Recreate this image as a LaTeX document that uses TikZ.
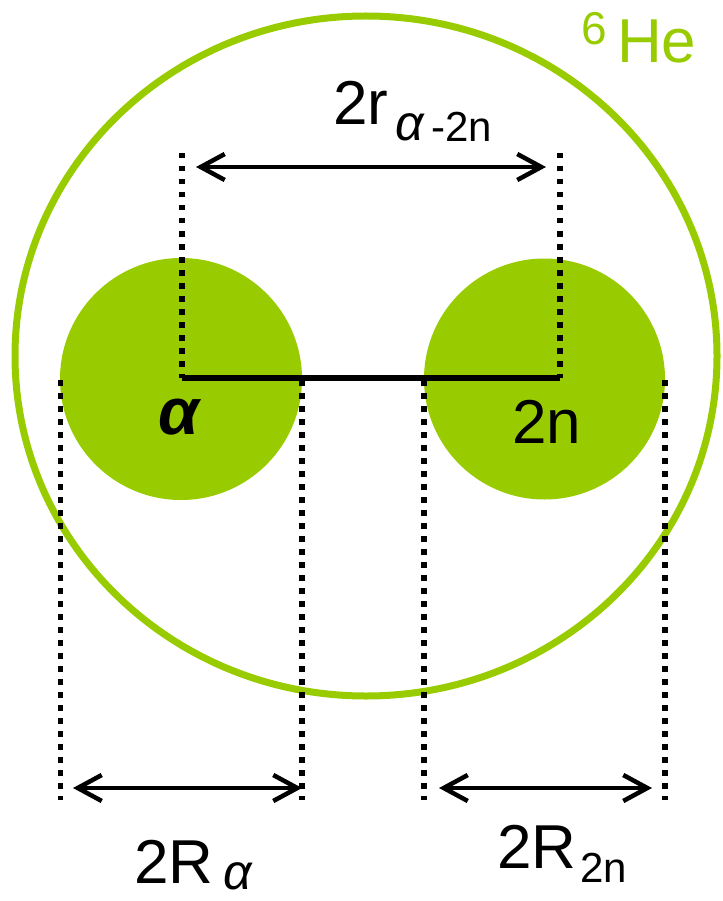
\documentclass[tikz,border=0pt]{standalone}
\usepackage{fontspec}
\setmainfont{Liberation Sans}
\usetikzlibrary{arrows.meta}
\definecolor{hegreen}{HTML}{99CC00}
\begin{document}
\begin{tikzpicture}[x=1pt,y=-1pt,
  dimline/.style={line width=5.5pt, dash pattern=on 5.5pt off 7.5pt},
  dimarrow/.style={line width=4.5pt, {Straight Barb[length=24pt,width=26pt]}-{Straight Barb[length=24pt,width=26pt]}},
  lbl/.style={inner sep=0pt, anchor=base west},
  big/.style={font=\fontsize{62}{70}\selectfont},
  sub/.style={font=\fontsize{42}{48}\selectfont},
  subal/.style={font=\fontsize{50}{56}\selectfont\itshape},
  ]
\useasboundingbox (0,0) rectangle (722,901);
% nucleus
\draw[hegreen, line width=7pt] (366,356) ellipse [x radius=351, y radius=340];
\node (he6) [circle, fill=hegreen, minimum size=242pt, inner sep=0pt] at (181,379) {};
\node (n2) [circle, fill=hegreen, minimum size=241pt, inner sep=0pt] at (544.5,379) {};
% coordinates
\coordinate (tl) at (182,153);
\coordinate (tr) at (560,153);
\coordinate (cl) at (182,378);
\coordinate (cr) at (560,378);
\coordinate (b1t) at (60.5,380); \coordinate (b1b) at (60.5,800);
\coordinate (b2t) at (302,380);  \coordinate (b2b) at (302,800);
\coordinate (b3t) at (424,380);  \coordinate (b3b) at (424,800);
\coordinate (b4t) at (665,380);  \coordinate (b4b) at (665,800);
\coordinate (a1l) at (196,167); \coordinate (a1r) at (546,167);
\coordinate (a2l) at (73,788);  \coordinate (a2r) at (302,788);
\coordinate (a3l) at (439,788); \coordinate (a3r) at (652,788);
% dotted guides
\draw[dimline] (tl) -- (cl);
\draw[dimline] (tr) -- (cr);
\draw[dimline] (b1t) -- (b1b);
\draw[dimline] (b2t) -- (b2b);
\draw[dimline] (b3t) -- (b3b);
\draw[dimline] (b4t) -- (b4b);
% separation line
\draw[line width=5.5pt] (cl) -- (cr);
% arrows
\draw[dimarrow] (a1l) -- (a1r);
\draw[dimarrow] (a2l) -- (a2r);
\draw[dimarrow] (a3l) -- (a3r);
% labels
\node[lbl, big] (r2) at (333,125) {2r};
\node[lbl, subal] (ral) at (395,141) {α};
\node[lbl, sub] (r2n) at (431,142) {-2n};
\node[lbl, text=hegreen, font=\fontsize{46}{52}\selectfont] (six) at (581,45) {6};
\node[lbl, text=hegreen, big] (he) at (617,63) {He};
\node[lbl, font=\fontsize{66}{72}\selectfont\bfseries\itshape] (alab) at (158,434) {α};
\node[lbl, big] (nlab) at (512,443) {2n};
\node[lbl, big] (Ra) at (134,883) {2R};
\node[lbl, subal] (Raa) at (223,889) {α};
\node[lbl, big] (Rn) at (497,868) {2R};
\node[lbl, sub] (Rnn) at (580,882) {2n};
\end{tikzpicture}
\end{document}
